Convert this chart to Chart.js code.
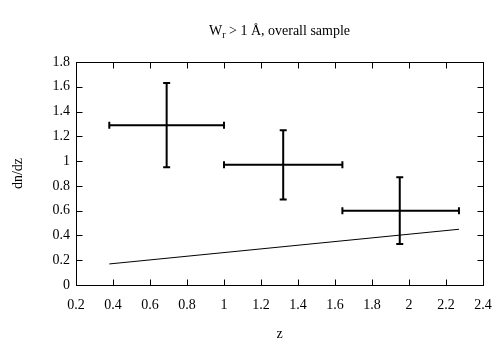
<!DOCTYPE html>
<html><head><meta charset="utf-8">
<script src="https://cdn.jsdelivr.net/npm/chart.js@4.4.0/dist/chart.umd.min.js"></script>
<style>html,body{margin:0;padding:0;background:#fff}#wrap{width:498px;height:350px}</style>
</head><body><div id="wrap"><canvas id="c" width="498" height="350"></canvas></div>
<script>
// ---- data ----
const binCenters = [0.69, 1.32, 1.95];
const binLow = [0.38, 1.00, 1.64];
const binHigh = [1.00, 1.64, 2.27];
const dndz = [1.29, 0.97, 0.60];
const dndzLow = [0.95, 0.69, 0.33];
const dndzHigh = [1.63, 1.25, 0.87];
const modelZ = [0.38, 2.27];
const modelDndz = [0.17, 0.45];
const xTicks = [0.2, 0.4, 0.6, 0.8, 1.0, 1.2, 1.4, 1.6, 1.8, 2.0, 2.2, 2.4];
const yTicks = [0, 0.2, 0.4, 0.6, 0.8, 1.0, 1.2, 1.4, 1.6, 1.8];
const xTickLabels = ['0.2','0.4','0.6','0.8','1','1.2','1.4','1.6','1.8','2','2.2','2.4'];
const yTickLabels = ['0','0.2','0.4','0.6','0.8','1','1.2','1.4','1.6','1.8'];

const FONT = 'Liberation Serif';

const measured = binCenters.map((x, i) => ({x: x, y: dndz[i], xMin: binLow[i], xMax: binHigh[i], yMin: dndzLow[i], yMax: dndzHigh[i]}));
const model = modelZ.map((z, i) => ({x: z, y: modelDndz[i]}));

const framePlugin = {
  id: 'frame',
  afterDraw(chart) {
    const {ctx, chartArea: a, scales: {x, y}} = chart;
    ctx.save();
    ctx.strokeStyle = '#000';
    ctx.lineWidth = 1;
    const L = Math.round(a.left) + 0.5, R = Math.round(a.right) + 0.5, T = Math.round(a.top) + 0.5, B = Math.round(a.bottom) + 0.5;
    ctx.strokeRect(L, T, R - L, B - T);
    const tl = 6;
    ctx.beginPath();
    xTicks.forEach(v => {
      const px = Math.round(x.getPixelForValue(v)) + 0.5;
      ctx.moveTo(px, B); ctx.lineTo(px, B - tl);
      ctx.moveTo(px, T); ctx.lineTo(px, T + tl);
    });
    yTicks.forEach(v => {
      const py = Math.round(y.getPixelForValue(v)) + 0.5;
      ctx.moveTo(L, py); ctx.lineTo(L + tl, py);
      ctx.moveTo(R, py); ctx.lineTo(R - tl, py);
    });
    ctx.stroke();
    ctx.restore();
  }
};

const errorBarPlugin = {
  id: 'errbars',
  afterDatasetsDraw(chart) {
    const {ctx, scales: {x, y}} = chart;
    const ds = chart.data.datasets[0];
    ctx.save();
    ctx.strokeStyle = '#000';
    ctx.lineWidth = 2;
    const cap = 3.5;
    ds.data.forEach(d => {
      const cx = x.getPixelForValue(d.x), cy = y.getPixelForValue(d.y);
      const x0 = x.getPixelForValue(d.xMin), x1 = x.getPixelForValue(d.xMax);
      const y0 = y.getPixelForValue(d.yMin), y1 = y.getPixelForValue(d.yMax);
      ctx.beginPath();
      ctx.moveTo(x0, cy); ctx.lineTo(x1, cy);
      ctx.moveTo(x0, cy - cap); ctx.lineTo(x0, cy + cap);
      ctx.moveTo(x1, cy - cap); ctx.lineTo(x1, cy + cap);
      ctx.moveTo(cx, y0); ctx.lineTo(cx, y1);
      ctx.moveTo(cx - cap, y0); ctx.lineTo(cx + cap, y0);
      ctx.moveTo(cx - cap, y1); ctx.lineTo(cx + cap, y1);
      ctx.stroke();
    });
    ctx.restore();
  }
};

const titlePlugin = {
  id: 'subtitleTitle',
  afterDraw(chart) {
    const {ctx, chartArea: a} = chart;
    ctx.save();
    ctx.fillStyle = '#000';
    ctx.textBaseline = 'alphabetic';
    const main = `14px "${FONT}"`, sub = `10px "${FONT}"`;
    ctx.font = main; const wW = ctx.measureText('W').width;
    const rest = ' > 1 Å, overall sample';
    const wRest = ctx.measureText(rest).width;
    ctx.font = sub; const wR = ctx.measureText('r').width;
    const total = wW + wR + wRest;
    let x0 = (a.left + a.right) / 2 - total / 2;
    const base = 35;
    ctx.font = main; ctx.fillText('W', x0, base);
    ctx.font = sub; ctx.fillText('r', x0 + wW, base + 3);
    ctx.font = main; ctx.fillText(rest, x0 + wW + wR, base);
    ctx.restore();
  }
};

new Chart(document.getElementById('c'), {
  type: 'scatter',
  data: {
    datasets: [
      {label: 'measured', data: measured, pointRadius: 0, showLine: false, borderColor: '#000', backgroundColor: '#000'},
      {label: 'model', data: model, showLine: true, pointRadius: 0, borderColor: '#000', borderWidth: 1, fill: false}
    ]
  },
  options: {
    responsive: false,
    animation: false,
    devicePixelRatio: 1,
    layout: {autoPadding: false, padding: {left: 0, right: 15, top: 62, bottom: 0}},
    plugins: {legend: {display: false}, title: {display: false}, tooltip: {enabled: false}},
    scales: {
      x: {
        type: 'linear', min: 0.2, max: 2.4,
        afterBuildTicks: s => { s.ticks = xTicks.map(v => ({value: v})); },
        afterFit: s => { s.height = 65; s.paddingLeft = 0; s.paddingRight = 0; },
        grid: {display: false, drawTicks: false, tickLength: 0},
        border: {display: false},
        ticks: {color: '#000', font: {family: FONT, size: 14}, padding: 11.5, maxRotation: 0, autoSkip: false,
          callback: (v) => xTickLabels[xTicks.findIndex(t => Math.abs(t - v) < 1e-6)]},
        title: {display: true, text: 'z', color: '#000', font: {family: FONT, size: 14}, padding: {top: 0, bottom: 7}}
      },
      y: {
        type: 'linear', min: 0, max: 1.8,
        afterBuildTicks: s => { s.ticks = yTicks.map(v => ({value: v})); },
        afterFit: s => { s.width = 76; s.paddingTop = 0; s.paddingBottom = 0; },
        grid: {display: false, drawTicks: false, tickLength: 0},
        border: {display: false},
        ticks: {color: '#000', font: {family: FONT, size: 14}, padding: 6, autoSkip: false,
          callback: (v) => yTickLabels[yTicks.findIndex(t => Math.abs(t - v) < 1e-6)]},
        title: {display: true, text: 'dn/dz', color: '#000', font: {family: FONT, size: 14}, padding: {top: 10, bottom: 0}}
      }
    }
  },
  plugins: [framePlugin, errorBarPlugin, titlePlugin]
});
</script>
</body></html>
